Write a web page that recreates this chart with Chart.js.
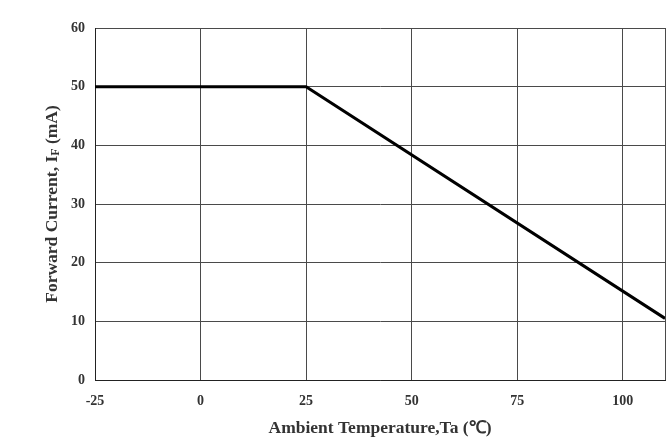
<!DOCTYPE html>
<html lang="en">
<head>
  <meta charset="UTF-8" />
  <title>Forward Current Derating Curve</title>
  <script src="https://cdn.jsdelivr.net/npm/chart.js"></script>
  <style>
    body {
      margin: 0;
      padding: 0;
      background: #fff;
    }
    .chart-box {
      width: 670px;
      height: 439px;
    }
  </style>
</head>
<body>
  <div class="chart-box">
    <canvas id="deratingChart"></canvas>
  </div>

  <script>
    // derating curve
    const ambientTemp = [-25, 25, 110];
    const forwardCurrent = [50, 50, 10.5];
    const tempTicks = [-25, 0, 25, 50, 75, 100];
    const currentTicks = [0, 10, 20, 30, 40, 50, 60];

    const tickFont = { family: 'Liberation Serif', size: 14, weight: 'bold' };
    const titleFont = { family: 'Liberation Serif', size: 17.5, weight: 'bold' };

    // y title needs a subscript F, so it is drawn by hand
    const yTitlePlugin = {
      id: 'yTitle',
      afterDraw(chart) {
        const ctx = chart.ctx;
        const area = chart.chartArea;
        const parts = [
          { text: 'Forward Current, I', size: 17.5, dy: 0 },
          { text: 'F', size: 12, dy: 4 },
          { text: ' (mA)', size: 17.5, dy: 0 }
        ];
        ctx.save();
        ctx.fillStyle = '#333';
        ctx.textBaseline = 'middle';
        ctx.textAlign = 'left';
        let total = 0;
        parts.forEach(p => {
          ctx.font = `bold ${p.size}px "Liberation Serif"`;
          p.w = ctx.measureText(p.text).width;
          total += p.w;
        });
        ctx.translate(52, (area.top + area.bottom) / 2);
        ctx.rotate(-Math.PI / 2);
        let x = -total / 2;
        parts.forEach(p => {
          ctx.font = `bold ${p.size}px "Liberation Serif"`;
          ctx.fillText(p.text, x, p.dy);
          x += p.w;
        });
        ctx.restore();
      }
    };

    new Chart('deratingChart', {
      type: 'line',
      data: {
        datasets: [{
          label: 'IF',
          data: ambientTemp.map((t, i) => ({ x: t, y: forwardCurrent[i] })),
          borderColor: '#000',
          borderWidth: 3,
          pointRadius: 0,
          tension: 0,
          fill: false
        }]
      },
      options: {
        responsive: true,
        maintainAspectRatio: false,
        animation: false,
        layout: { padding: { top: 28, right: 5, bottom: 0, left: 0 } },
        plugins: {
          legend: { display: false },
          tooltip: { enabled: false }
        },
        scales: {
          x: {
            type: 'linear',
            min: -25,
            max: 110,
            afterBuildTicks: scale => {
              scale.ticks = tempTicks.concat([110]).map(v => ({ value: v }));
            },
            afterFit: scale => {
              scale.height = 59;
              scale.paddingRight = 0;
              scale.paddingLeft = 0;
            },
            grid: { color: '#4a4a4a', lineWidth: 1, drawTicks: false },
            border: { color: '#222', width: 1 },
            ticks: {
              padding: 13,
              color: '#333',
              font: tickFont,
              maxRotation: 0,
              callback: v => (tempTicks.includes(v) ? v : '')
            },
            title: {
              display: true,
              text: 'Ambient Temperature,Ta (℃)',
              color: '#333',
              font: titleFont,
              padding: { top: 0, bottom: 0 }
            }
          },
          y: {
            min: 0,
            max: 60,
            afterBuildTicks: scale => {
              scale.ticks = currentTicks.map(v => ({ value: v }));
            },
            afterFit: scale => { scale.width = 95; },
            grid: { color: '#4a4a4a', lineWidth: 1, drawTicks: false },
            border: { color: '#222', width: 1 },
            ticks: {
              padding: 10,
              color: '#333',
              font: tickFont
            }
          }
        }
      },
      plugins: [yTitlePlugin]
    });
  </script>
</body>
</html>
